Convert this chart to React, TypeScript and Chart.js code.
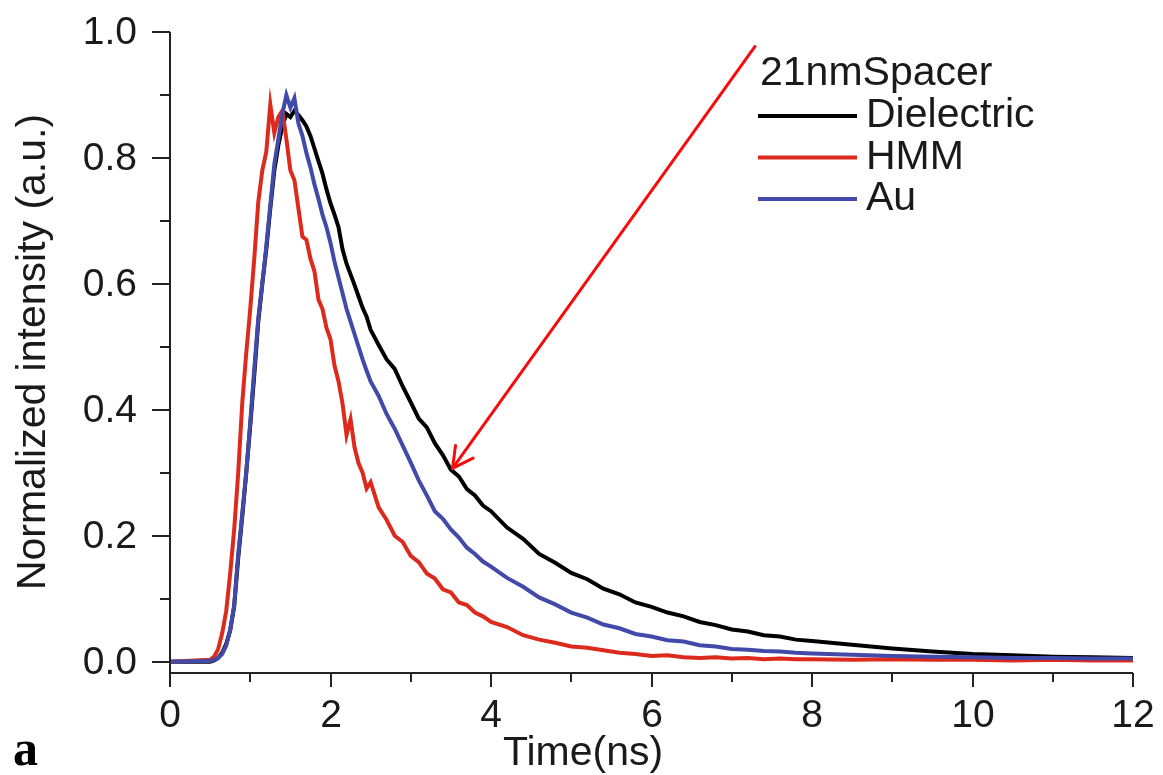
import React, { useEffect, useRef } from "react";
import { Chart, registerables } from "chart.js";

Chart.register(...registerables);

// ---- data ----
const times = [0, 0.5,
  0.55, 0.6, 0.65, 0.7, 0.75, 0.8, 0.85, 0.9, 0.95, 1.0,
  1.05, 1.1, 1.15, 1.2, 1.25, 1.3, 1.35, 1.4, 1.45, 1.5,
  1.55, 1.6, 1.65, 1.7, 1.75, 1.8, 1.85, 1.9, 1.95, 2.0,
  2.05, 2.1, 2.15, 2.2, 2.25, 2.3, 2.35, 2.4, 2.45, 2.5,
  2.6, 2.7, 2.8, 2.9, 3.0, 3.1, 3.2, 3.3, 3.4, 3.5,
  3.6, 3.7, 3.8, 3.9, 4.0, 4.2, 4.4, 4.6, 4.8, 5.0,
  5.2, 5.4, 5.6, 5.8, 6.0, 6.2, 6.4, 6.6, 6.8, 7.0,
  7.2, 7.4, 7.6, 7.8, 8.0, 8.5, 9.0, 9.5, 10.0, 10.5,
  11.0, 11.5, 12.0];

const dielectric = [0, 0,
  0.002, 0.006, 0.014, 0.028, 0.05, 0.088, 0.165, 0.23, 0.3, 0.375,
  0.455, 0.54, 0.6, 0.655, 0.72, 0.78, 0.82, 0.85, 0.87, 0.865,
  0.875, 0.868, 0.86, 0.85, 0.835, 0.815, 0.795, 0.775, 0.75, 0.728,
  0.71, 0.69, 0.655, 0.632, 0.615, 0.598, 0.58, 0.562, 0.548, 0.527,
  0.503, 0.48, 0.465, 0.437, 0.412, 0.386, 0.372, 0.347, 0.328, 0.305,
  0.294, 0.274, 0.264, 0.248, 0.239, 0.213, 0.195, 0.171, 0.157, 0.141,
  0.131, 0.116, 0.107, 0.094, 0.087, 0.078, 0.072, 0.063, 0.058, 0.051,
  0.048, 0.042, 0.04, 0.035, 0.033, 0.027, 0.021, 0.016, 0.012, 0.01,
  0.008, 0.007, 0.006];

const hmm = [0, 0.003,
  0.008, 0.02, 0.045, 0.08, 0.14, 0.21, 0.3, 0.41, 0.49, 0.56,
  0.64, 0.73, 0.78, 0.81, 0.885, 0.84, 0.865, 0.875, 0.83, 0.78,
  0.765, 0.72, 0.675, 0.67, 0.64, 0.62, 0.575, 0.56, 0.53, 0.512,
  0.47, 0.445, 0.41, 0.36, 0.385, 0.34, 0.315, 0.3, 0.275, 0.285,
  0.245, 0.225, 0.2, 0.19, 0.168, 0.158, 0.14, 0.132, 0.115, 0.11,
  0.094, 0.09, 0.078, 0.072, 0.063, 0.055, 0.042, 0.035, 0.03, 0.024,
  0.022, 0.018, 0.014, 0.012, 0.009, 0.01, 0.007, 0.006, 0.007, 0.005,
  0.006, 0.004, 0.005, 0.004, 0.004, 0.003, 0.004, 0.003, 0.003, 0.002,
  0.003, 0.002, 0.002];

const au = [0, 0.001,
  0.003, 0.006, 0.012, 0.025, 0.05, 0.09, 0.17, 0.235, 0.3, 0.38,
  0.465, 0.545, 0.6, 0.66, 0.725, 0.79, 0.83, 0.87, 0.9, 0.88,
  0.895, 0.855, 0.835, 0.808, 0.785, 0.758, 0.735, 0.71, 0.69, 0.665,
  0.635, 0.61, 0.585, 0.56, 0.54, 0.52, 0.5, 0.48, 0.462, 0.445,
  0.422, 0.393, 0.37, 0.343, 0.316, 0.288, 0.264, 0.239, 0.227, 0.21,
  0.197, 0.181, 0.171, 0.159, 0.151, 0.133, 0.119, 0.102, 0.091, 0.078,
  0.07, 0.059, 0.053, 0.044, 0.04, 0.034, 0.032, 0.026, 0.024, 0.02,
  0.019, 0.017, 0.016, 0.014, 0.013, 0.011, 0.009, 0.008, 0.007, 0.006,
  0.006, 0.005, 0.005];

const seriesLabels = ["Dielectric", "HMM", "Au"];
const seriesColors = ["#000000", "#dc2a1c", "#4149a9"];
const legendTitle = "21nmSpacer";
const xTickValues = [0, 2, 4, 6, 8, 10, 12];
const xMinorTickValues = [1, 3, 5, 7, 9, 11];
const yTickValues = [0, 0.2, 0.4, 0.6, 0.8, 1.0];
const yMinorTickValues = [0.1, 0.3, 0.5, 0.7, 0.9];
const arrowFrom = [7.29, 0.977];
const arrowTo = [3.52, 0.307];
const xTitle = "Time(ns)";
const yTitle = "Normalized intensity (a.u.)";
const panelLabel = "a";

const SANS = "'Liberation Sans', Arial, sans-serif";
const SERIF = "'Liberation Serif', 'Times New Roman', serif";

const decorPlugin = {
  id: "decor",
  afterDatasetsDraw(chart: any) {
    const { ctx, chartArea: a, scales } = chart;
    const x = scales.x;
    const y = scales.y;
    const seg = (x1: number, y1: number, x2: number, y2: number) => {
      ctx.beginPath();
      ctx.moveTo(x1, y1);
      ctx.lineTo(x2, y2);
      ctx.stroke();
    };
    ctx.save();
    // axes
    ctx.strokeStyle = "#222";
    ctx.lineWidth = 2;
    ctx.beginPath();
    ctx.moveTo(a.left, a.top);
    ctx.lineTo(a.left, a.bottom);
    ctx.lineTo(a.right, a.bottom);
    ctx.stroke();
    ctx.fillStyle = "#1a1a1a";
    ctx.font = `39px ${SANS}`;
    ctx.textAlign = "right";
    ctx.textBaseline = "middle";
    yTickValues.forEach((v) => {
      const p = Math.round(y.getPixelForValue(v));
      seg(a.left - 18, p, a.left, p);
      ctx.fillText(v.toFixed(1), a.left - 33, p + 1);
    });
    yMinorTickValues.forEach((v) => {
      const p = Math.round(y.getPixelForValue(v));
      seg(a.left - 10, p, a.left, p);
    });
    ctx.textAlign = "center";
    ctx.textBaseline = "alphabetic";
    xTickValues.forEach((v) => {
      const p = Math.round(x.getPixelForValue(v));
      seg(p, a.bottom, p, a.bottom + 14);
      ctx.fillText(String(v), p, a.bottom + 54);
    });
    xMinorTickValues.forEach((v) => {
      const p = Math.round(x.getPixelForValue(v));
      seg(p, a.bottom, p, a.bottom + 9);
    });

    // axis titles
    ctx.font = `41px ${SANS}`;
    ctx.textAlign = "center";
    ctx.textBaseline = "alphabetic";
    ctx.fillText(xTitle, 583, 765);
    ctx.save();
    ctx.translate(45, 352);
    ctx.rotate(-Math.PI / 2);
    ctx.fillText(yTitle, 0, 0);
    ctx.restore();

    // panel label
    ctx.font = `bold 50px ${SERIF}`;
    ctx.textAlign = "left";
    ctx.fillStyle = "#000";
    ctx.fillText(panelLabel, 13, 765);

    // legend
    ctx.font = `41px ${SANS}`;
    ctx.fillStyle = "#1a1a1a";
    ctx.textAlign = "left";
    ctx.fillText(legendTitle, 760, 85);
    chart.data.datasets.forEach((ds: any, i: number) => {
      const ly = 116 + i * 41.5;
      ctx.strokeStyle = ds.borderColor;
      ctx.lineWidth = 4;
      seg(758, ly, 857, ly);
      ctx.fillStyle = "#1a1a1a";
      ctx.fillText(ds.label, 866, ly + 11);
    });

    // arrow annotation
    const sx = x.getPixelForValue(arrowFrom[0]);
    const sy = y.getPixelForValue(arrowFrom[1]);
    const tx = x.getPixelForValue(arrowTo[0]);
    const ty = y.getPixelForValue(arrowTo[1]);
    ctx.strokeStyle = "#f50d0d";
    ctx.lineWidth = 3;
    ctx.lineCap = "round";
    seg(sx, sy, tx, ty);
    const ang = Math.atan2(sy - ty, sx - tx);
    const L = 23;
    const spread = (28 * Math.PI) / 180;
    seg(tx, ty, tx + L * Math.cos(ang - spread), ty + L * Math.sin(ang - spread));
    seg(tx, ty, tx + L * Math.cos(ang + spread), ty + L * Math.sin(ang + spread));
    ctx.restore();
  },
};

export default function App() {
  const ref = useRef<HTMLCanvasElement | null>(null);
  useEffect(() => {
    if (!ref.current) return;
    const series = [dielectric, hmm, au];
    const chart = new Chart(ref.current, {
      type: "line",
      data: {
        datasets: series.map((vals, i) => ({
          label: seriesLabels[i],
          data: times.map((t, k) => ({ x: t, y: vals[k] })),
          borderColor: seriesColors[i],
          backgroundColor: seriesColors[i],
          borderWidth: 4,
          pointRadius: 0,
          tension: 0,
          fill: false,
          order: 3 - i,
        })),
      },
      options: {
        responsive: false,
        animation: false,
        events: [],
        layout: { padding: { top: 32, right: 30, left: 0, bottom: 0 } },
        plugins: { legend: { display: false }, tooltip: { enabled: false } },
        scales: {
          x: {
            type: "linear",
            min: 0,
            max: 12,
            afterFit: (s: any) => {
              s.height = 102;
            },
            grid: { display: false, drawTicks: false },
            border: { display: false },
            ticks: { display: false, stepSize: 2 },
          },
          y: {
            type: "linear",
            min: -0.018,
            max: 1.0,
            afterFit: (s: any) => {
              s.width = 170;
            },
            grid: { display: false, drawTicks: false },
            border: { display: false },
            ticks: { display: false, stepSize: 0.2 },
          },
        },
      },
      plugins: [decorPlugin],
    });
    return () => chart.destroy();
  }, []);
  return (
    <div style={{ position: "fixed", left: 0, top: 0, width: 1163, height: 775, background: "#fff" }}>
      <canvas ref={ref} width={1163} height={775} />
    </div>
  );
}
